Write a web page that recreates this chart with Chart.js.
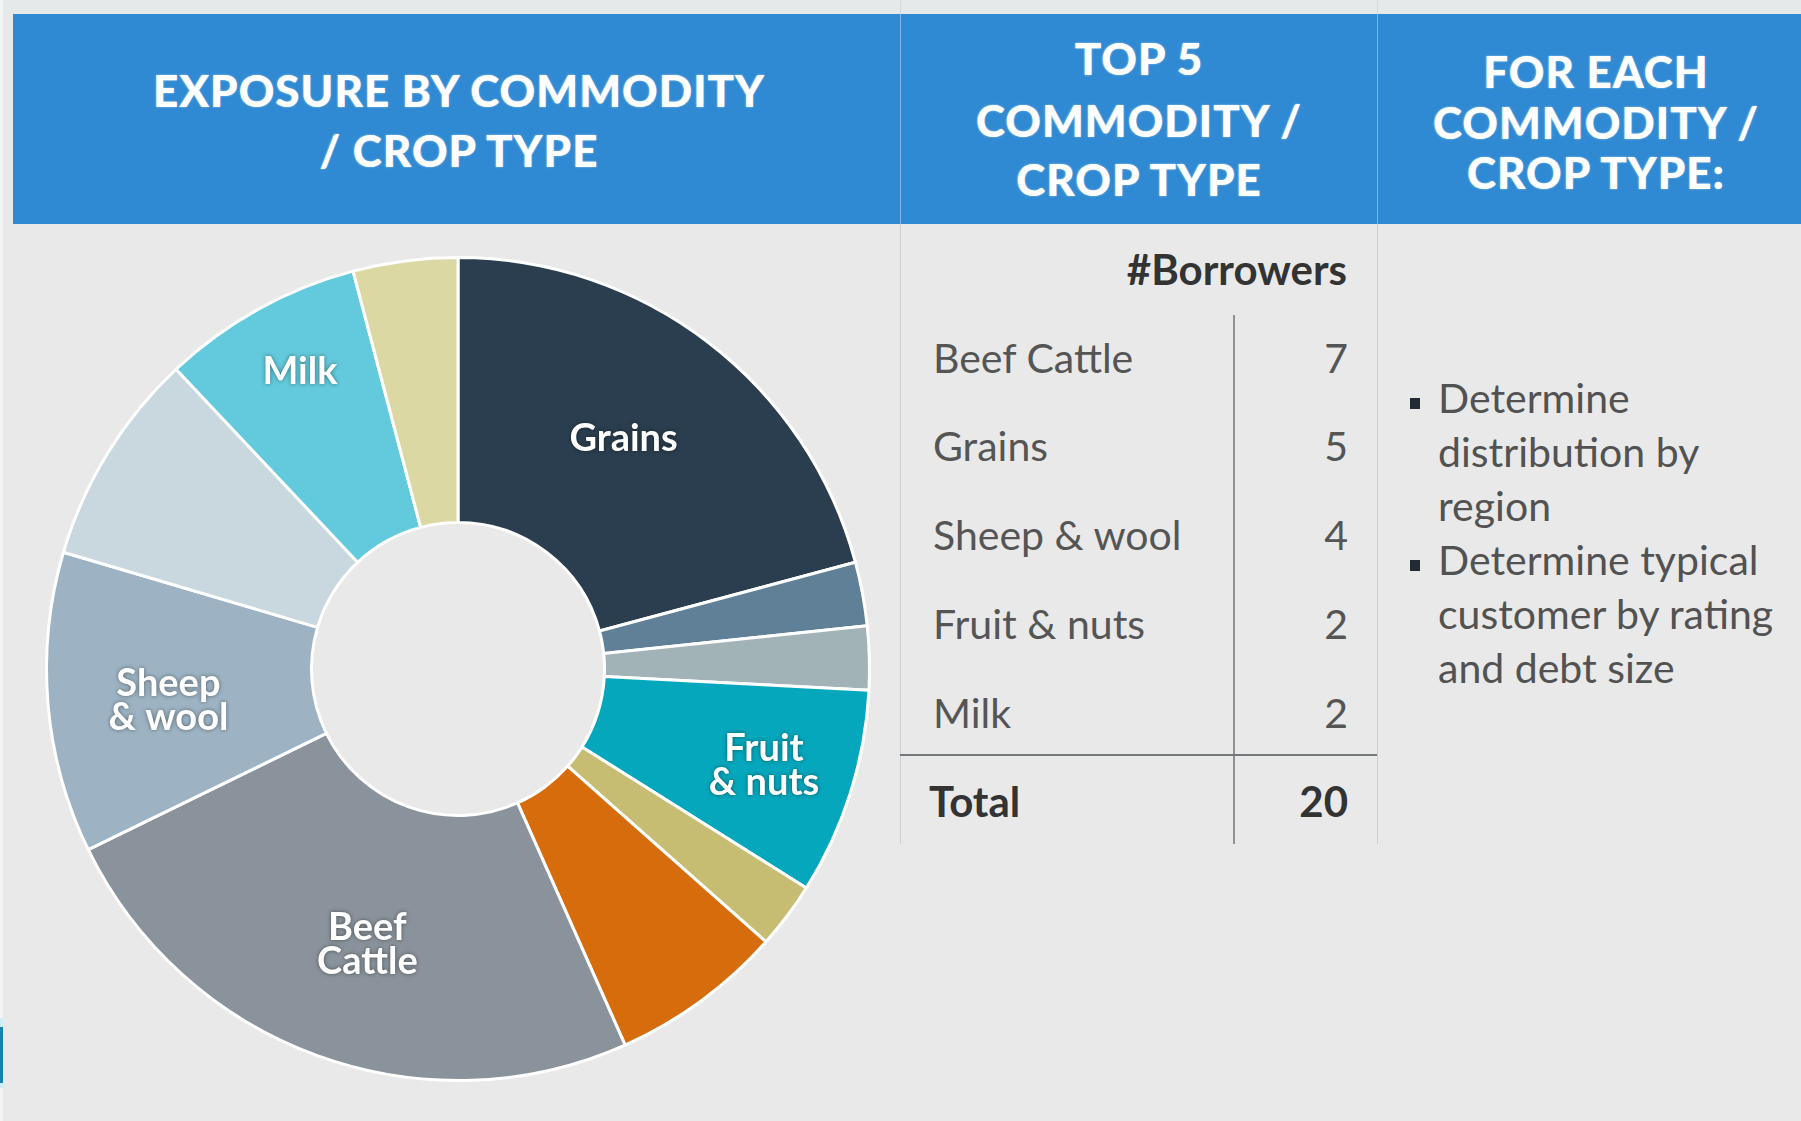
<!DOCTYPE html>
<html>
<head>
<meta charset="utf-8">
<title>Exposure by commodity / crop type</title>
<script src="https://cdn.jsdelivr.net/npm/chart.js@4.4.1/dist/chart.umd.min.js"></script>
<style>
  html, body { margin: 0; padding: 0; }
  body {
    width: 1801px; height: 1121px; position: relative; overflow: hidden;
    background: #e8e9e8; font-family: Lato, "Open Sans", sans-serif;
  }
  .abs { position: absolute; white-space: nowrap; }
  .rule { position: absolute; }
  #topband { position: absolute; left: 0; top: 0; width: 1801px; height: 14px; background: #e5e9ea; }
  #header { position: absolute; left: 13px; top: 14px; width: 1788px; height: 210px; background: #2f8ad3; }
  #pieWrap { position: absolute; left: 38px; top: 249px; width: 840px; height: 840px; }
</style>
</head>
<body>
<div id="topband"></div>
<div id="header"></div>
<div id="pieWrap"><canvas id="exposureChart" width="840" height="840"></canvas></div>

<script>
// ---- data ----
// slices clockwise from 12 o'clock, share of exposure in %
const sliceNames = ['Grains', 'Other 1', 'Other 2', 'Fruit & nuts', 'Other 3', 'Other 4',
                    'Beef Cattle', 'Sheep & wool', 'Other 5', 'Milk', 'Other 6'];
const exposureShare = [20.8, 2.5, 2.5, 8.1, 2.6, 6.8, 24.4, 11.8, 8.4, 7.9, 4.1];
const sliceText = ['Grains', '', '', 'Fruit\n& nuts', '', '', 'Beef\nCattle', 'Sheep\n& wool', '', 'Milk', ''];
const sliceColors = ['#2b3e4f', '#5f8096', '#a2b3b8', '#05a7bd', '#c7bd72', '#d66c0b',
                     '#8a939b', '#9db3c3', '#c9d7de', '#62cadc', '#dbd8a3'];

const topCommodities = ['Beef Cattle', 'Grains', 'Sheep & wool', 'Fruit & nuts', 'Milk'];
const topBorrowers = [7, 5, 4, 2, 2];
const totalBorrowers = 20;

const headerCol1 = ['EXPOSURE BY COMMODITY', '/ CROP TYPE'];
const headerCol2 = ['TOP 5', 'COMMODITY /', 'CROP TYPE'];
const headerCol3 = ['FOR EACH', 'COMMODITY /', 'CROP TYPE:'];
const bulletLines = [['Determine', 'distribution by', 'region'],
                     ['Determine typical', 'customer by rating', 'and debt size']];

// place a line of text by its baseline (Lato metrics)
function putText(txt, o) {
  const el = document.createElement('div');
  el.className = 'abs';
  el.textContent = txt;
  el.style.fontSize = o.size + 'px';
  el.style.fontWeight = o.weight || 400;
  el.style.lineHeight = o.size + 'px';
  el.style.color = o.color || '#505050';
  el.style.top = (o.baseline - 0.887 * o.size) + 'px';
  if (o.spacing) el.style.letterSpacing = o.spacing + 'px';
  if (o.shadow) el.style.textShadow = o.shadow;
  if (o.align === 'right') {
    el.style.right = (1801 - o.x) + 'px';
  } else if (o.align === 'center') {
    el.style.left = (o.x - 450) + 'px';
    el.style.width = '900px';
    el.style.textAlign = 'center';
  } else {
    el.style.left = o.x + 'px';
  }
  document.body.appendChild(el);
}

function rule(x, y, w, h, color) {
  const el = document.createElement('div');
  el.className = 'rule';
  el.style.left = x + 'px'; el.style.top = y + 'px';
  el.style.width = w + 'px'; el.style.height = h + 'px';
  el.style.background = color;
  document.body.appendChild(el);
}

// left edge strip and the small blue tab
rule(0, 0, 3, 1121, '#f3f4f4');
rule(0, 1018, 3, 70, '#cdeef5');
rule(0, 1027, 3, 56, '#1383b0');

// column dividers
rule(900, 0, 1, 14, '#d3d9dc');
rule(1377, 0, 1, 14, '#d3d9dc');
rule(900, 14, 1, 210, '#7fb6e6');
rule(1377, 14, 1, 210, '#7fb6e6');
rule(900, 224, 1, 620, '#cdd1d3');
rule(1377, 224, 1, 620, '#cdd1d3');

// header text
const headShadow = '0 0 2px rgba(255,255,255,0.6)';
const headStyle = { size: 44, weight: 900, color: '#ffffff', align: 'center', spacing: 1, shadow: headShadow };
[107, 167].forEach((b, i) => putText(headerCol1[i], Object.assign({}, headStyle, { x: 459, baseline: b })));
[75, 137, 196].forEach((b, i) => putText(headerCol2[i], Object.assign({}, headStyle, { x: 1139, baseline: b })));
[88, 139, 189].forEach((b, i) => putText(headerCol3[i], Object.assign({}, headStyle, { x: 1596, baseline: b })));

// top 5 table
putText('#Borrowers', { x: 1347, baseline: 285, size: 42, weight: 700, color: '#333', align: 'right' });
rule(1233, 315, 2, 529, '#8d9295');
topCommodities.forEach((name, i) => {
  const b = 373 + i * 88.75;
  putText(name, { x: 933, baseline: b, size: 41, color: '#555555' });
  putText(String(topBorrowers[i]), { x: 1348, baseline: b, size: 41, color: '#555555', align: 'right' });
});
rule(900, 754, 477, 2, '#73787b');
putText('Total', { x: 929, baseline: 817, size: 42, weight: 700, color: '#333' });
putText(String(totalBorrowers), { x: 1348, baseline: 817, size: 42, weight: 700, color: '#333', align: 'right' });

// bullets
bulletLines.forEach((lines, k) => {
  const first = 413 + k * 162;
  rule(1410, first - 15, 10, 11, '#222a33');
  lines.forEach((ln, j) => putText(ln, { x: 1438, baseline: first + j * 54, size: 41, color: '#525252' }));
});

// white text on the slices
const sliceLabels = {
  id: 'sliceLabels',
  afterDatasetsDraw(chart, args, opts) {
    const ctx = chart.ctx;
    const meta = chart.getDatasetMeta(0);
    ctx.save();
    ctx.font = opts.font;
    ctx.fillStyle = '#ffffff';
    ctx.textAlign = 'center';
    ctx.textBaseline = 'middle';
    ctx.shadowColor = 'rgba(0,0,0,0.45)';
    ctx.shadowBlur = 4;
    meta.data.forEach((arc, i) => {
      const text = sliceText[i];
      if (!text) return;
      const p = arc.getProps(['x', 'y', 'startAngle', 'endAngle', 'outerRadius'], true);
      const a = (p.startAngle + p.endAngle) / 2 + (opts.nudge[i] || 0) * Math.PI / 180;
      const r = p.outerRadius * opts.radius[i];
      const cx = p.x + Math.cos(a) * r;
      const cy = p.y + Math.sin(a) * r;
      const lines = text.split('\n');
      lines.forEach((ln, k) => {
        ctx.fillText(ln, cx, cy + (k - (lines.length - 1) / 2) * opts.lineHeight);
      });
    });
    ctx.restore();
  }
};

new Chart(document.getElementById('exposureChart'), {
  type: 'doughnut',
  data: {
    labels: sliceNames,
    datasets: [{
      data: exposureShare,
      backgroundColor: sliceColors,
      borderColor: '#ffffff',
      borderWidth: 3
    }]
  },
  options: {
    responsive: false,
    animation: false,
    cutout: '35.6%',
    layout: { padding: 7 },
    plugins: {
      legend: { display: false },
      tooltip: { enabled: false },
      sliceLabels: {
        font: 'bold 38px Lato',
        lineHeight: 34,
        radius: [0.69, 0, 0, 0.78, 0, 0, 0.705, 0.708, 0, 0.818, 0],
        nudge: [-1.8, 0, 0, 0, 0, 0, -1.8, -1.5, 0, 1, 0]
      }
    }
  },
  plugins: [sliceLabels]
});
</script>
</body>
</html>
